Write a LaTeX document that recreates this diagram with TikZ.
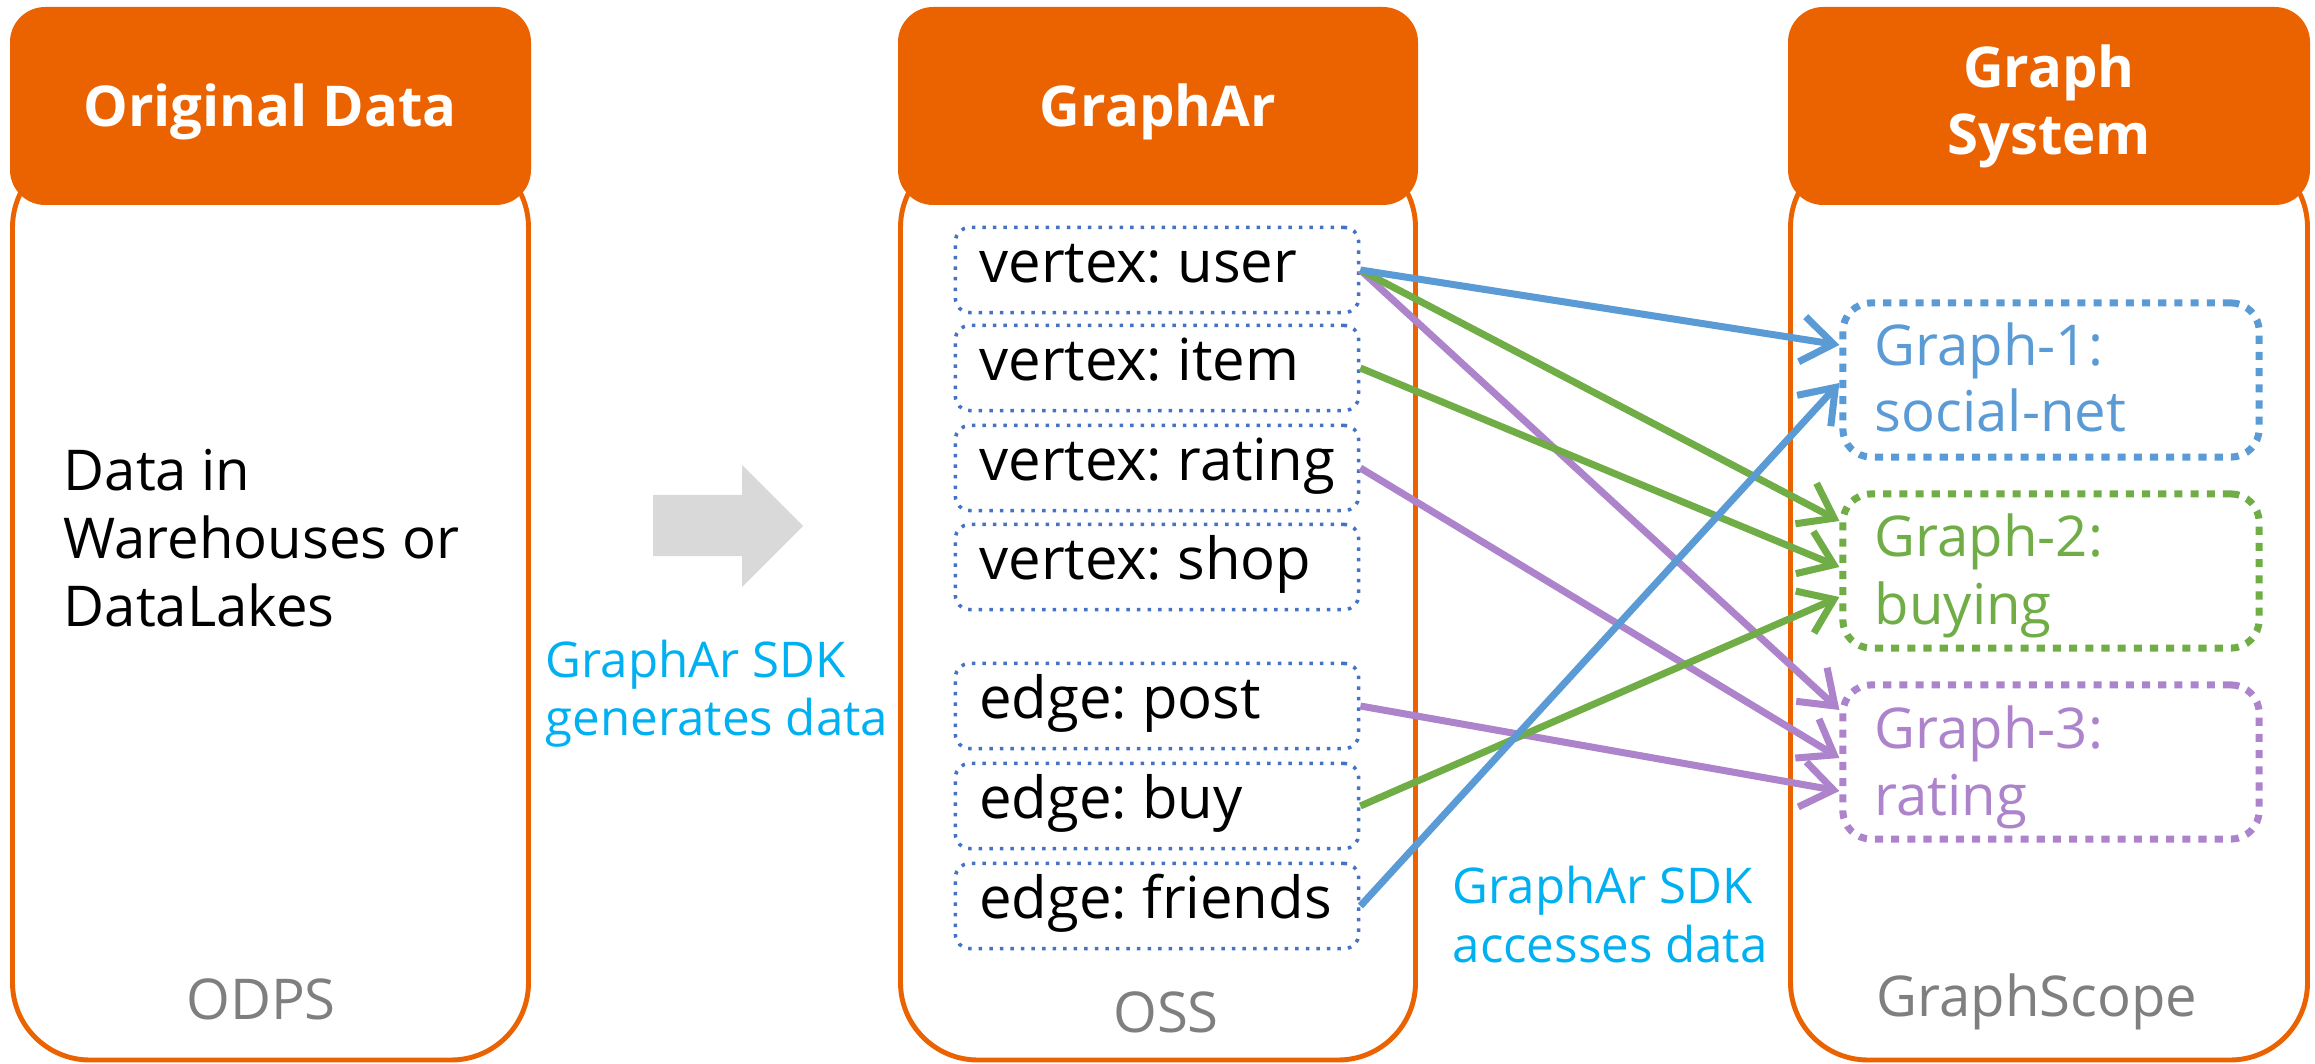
\documentclass[tikz,border=0pt]{standalone}
\usepackage{fontspec}
\setmainfont{Open Sans}
\frenchspacing
\usetikzlibrary{arrows.meta,calc}

\definecolor{hdorange}{RGB}{235,98,0}
\definecolor{gblue}{RGB}{91,155,213}
\definecolor{ggreen}{RGB}{112,173,71}
\definecolor{gpurple}{RGB}{173,132,204}
\definecolor{boxblue}{RGB}{68,114,196}
\definecolor{sdkcyan}{RGB}{0,176,240}
\definecolor{labelgray}{RGB}{127,127,127}

\tikzset{
  header/.style={fill=hdorange, rounded corners=10pt},
  panel/.style={draw=hdorange, line width=1.4pt, rounded corners=22pt},
  headtext/.style={text=white, font=\fontsize{16}{19}\selectfont\bfseries, inner sep=0pt, anchor=base},
  bodytext/.style={font=\fontsize{16}{19}\selectfont, inner sep=0pt},
  storetext/.style={bodytext, text=labelgray, anchor=base},
  sdktext/.style={text=sdkcyan, font=\fontsize{14}{17}\selectfont, inner sep=0pt, anchor=base west},
  filebox/.style={draw=boxblue, dotted, line width=1pt, rounded corners=4pt,
    minimum width=4.03cm, minimum height=0.85cm, inner xsep=0.24cm,
    font=\fontsize{16.5}{19}\selectfont, text height=0.75em, text depth=0.05em},
  graphbox/.style={draw=#1, line width=2pt, dash pattern=on 2.3pt off 2.3pt,
    rounded corners=8pt, minimum width=4.16cm, minimum height=1.54cm},
  graphtext/.style={bodytext, text=#1, anchor=base west},
  link/.style={draw=#1, line width=2pt, -{Straight Barb[length=9pt,width=13pt]}},
}

\begin{document}
\begin{tikzpicture}[x=0.01cm, y=-0.01cm]

\useasboundingbox (0,0) rectangle (2315,1064);

% three columns
\foreach \xa/\xb in {10/531, 898/1418, 1788/2310}
{
  \draw[panel] (\xa+2.5,150) rectangle (\xb-2.5,1060);
  \fill[header] (\xa,7) rectangle (\xb,205);
}

\node[headtext] (hOrig) at (270,127) {Original Data};
\node[headtext] (hAr) at (1158,127) {GraphAr};
\node[headtext] (hSys1) at (2049,88) {Graph};
\node[headtext] (hSys2) at (2049,155) {System};

\foreach \t/\y [count=\i] in {Data in/491, Warehouses or/558, DataLakes/626}
  \node[bodytext, anchor=base west] (data\i) at (63,\y) {\t};

\node[storetext] (odps) at (261,1019) {ODPS};
\node[storetext] (oss) at (1166,1032) {OSS};
\node[storetext] (gscope) at (2037,1016) {GraphScope};

% generate arrow
\fill[black!15] (653,495) -- (742,495) -- (742,465) -- (803,526) -- (742,587)
  -- (742,556) -- (653,556) -- cycle;

\node[sdktext] (gen1) at (545,677) {GraphAr SDK};
\node[sdktext] (gen2) at (545,735) {generates data};
\node[sdktext] (acc1) at (1452,903) {GraphAr SDK};
\node[sdktext] (acc2) at (1452,962) {accesses data};

% files in GraphAr
\foreach \n/\y in {user/270, item/368, rating/468, shop/567}
  \node[filebox] (v\n) at (1157,\y) {\makebox[3.55cm][l]{vertex: \n}};
\foreach \n/\y in {post/706, buy/806, friends/906}
  \node[filebox] (e\n) at (1157,\y) {\makebox[3.55cm][l]{edge: \n}};

% graphs
\node[graphbox=gblue] (g1) at (2051,380) {};
\node[graphbox=ggreen] (g2) at (2051,571) {};
\node[graphbox=gpurple] (g3) at (2051,762) {};

\node[graphtext=gblue] (g1a) at (1874,366) {Graph-1:};
\node[graphtext=gblue] (g1b) at (1874,432) {social-net};
\node[graphtext=ggreen] (g2a) at (1874,557) {Graph-2:};
\node[graphtext=ggreen] (g2b) at (1874,624) {buying};
\node[graphtext=gpurple] (g3a) at (1874,748) {Graph-3:};
\node[graphtext=gpurple] (g3b) at (1874,815) {rating};

\draw[link=gpurple] (vuser.east) -- ($(g3.west)+(0,-52)$);
\draw[link=gpurple] (vrating.east) -- ($(g3.west)+(0,-4)$);
\draw[link=gpurple] (epost.east) -- ($(g3.west)+(0,29)$);
\draw[link=ggreen] (vuser.east) -- ($(g2.west)+(0,-50)$);
\draw[link=ggreen] (vitem.east) -- ($(g2.west)+(0,-4)$);
\draw[link=ggreen] (ebuy.east) -- ($(g2.west)+(0,26)$);
\draw[link=gblue] (vuser.east) -- ($(g1.west)+(0,-35)$);
\draw[link=gblue] (efriends.east) -- ($(g1.west)+(0,3)$);

\end{tikzpicture}
\end{document}
